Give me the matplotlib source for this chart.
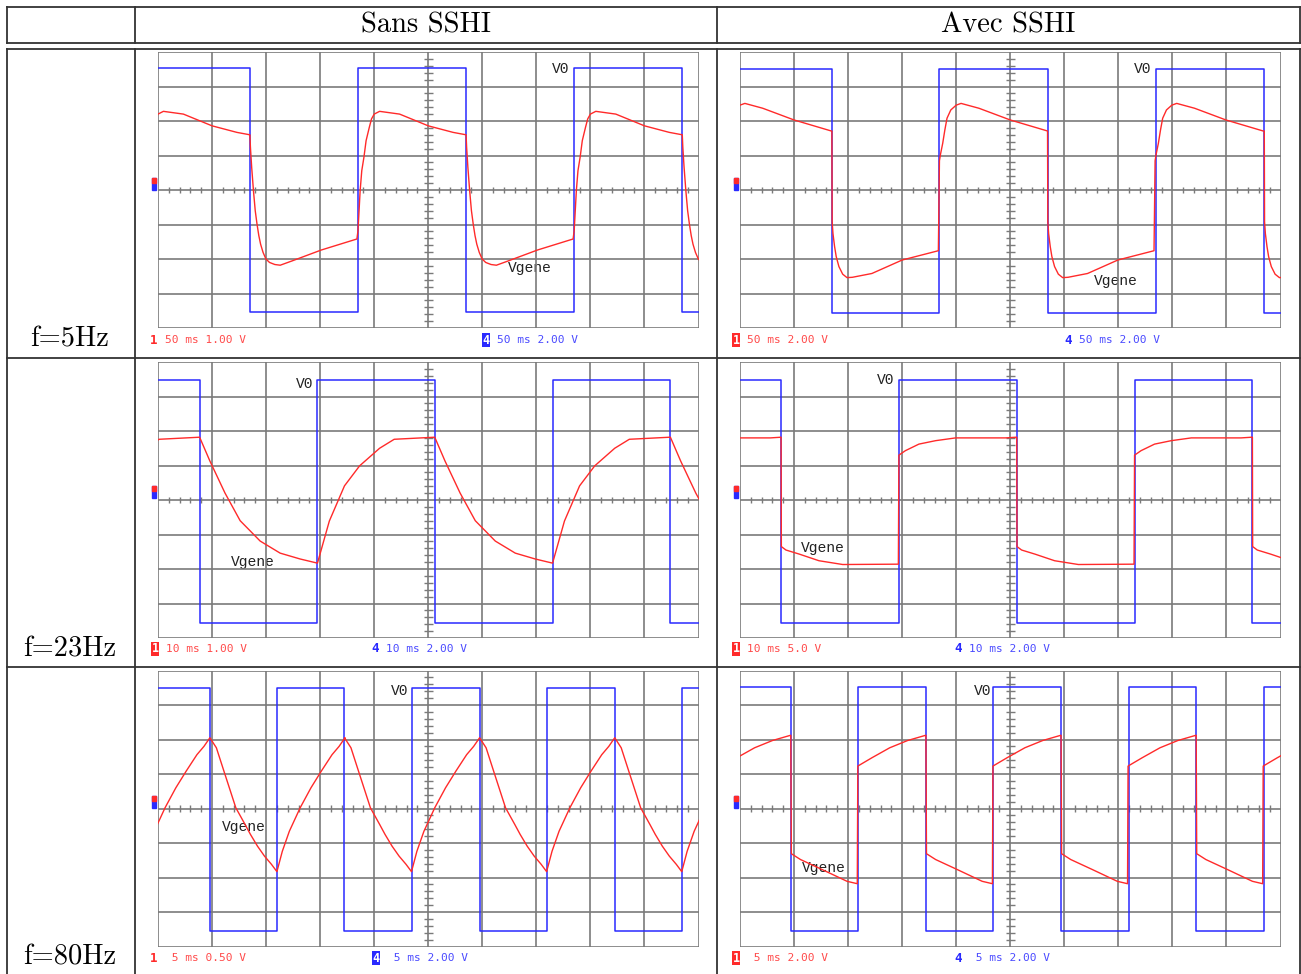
import numpy as np
import matplotlib
matplotlib.use("Agg")
import matplotlib.pyplot as plt

# --- lecture des oscillogrammes (unites : divisions, x 0..10, y -4..4) ---
# fronts descendants / montants de V0 (voie 4), niveaux haut / bas
fronts_desc_5hz_sans = [-2.30, 1.70, 5.70, 9.70]
fronts_mont_5hz_sans = [3.70, 7.70]
niveaux_5hz_sans = (3.53, -3.55)
# Vgene (voie 1) sur une periode, temps relatif au front descendant
dt_5hz_sans = [0.00, 0.01, 0.033, 0.066, 0.099, 0.132, 0.165, 0.198, 0.244, 0.297, 0.363, 0.462,
               0.561, 0.79, 1.32, 1.98, 2.00, 2.04, 2.07, 2.11, 2.15, 2.21, 2.25, 2.30, 2.40,
               2.77, 3.30, 3.76, 4.00]
vg_5hz_sans = [1.60, 1.24, 0.66, -0.02, -0.60, -0.99, -1.32, -1.57, -1.81, -2.00, -2.10, -2.16,
               -2.18, -2.05, -1.74, -1.42, -1.18, -0.02, 0.56, 0.95, 1.43, 1.82, 2.06, 2.20, 2.28,
               2.20, 1.86, 1.67, 1.60]

fronts_desc_5hz_avec = [-2.30, 1.70, 5.69, 9.70]
fronts_mont_5hz_avec = [3.69, 7.70]
niveaux_5hz_avec = (3.52, -3.56)
dt_5hz_avec = [0.00, 0.005, 0.02, 0.05, 0.08, 0.13, 0.20, 0.28, 0.38, 0.74, 1.30, 1.97, 1.99,
               2.01, 2.05, 2.09, 2.13, 2.20, 2.30, 2.39, 2.72, 3.30, 3.99]
vg_5hz_avec = [1.71, -0.92, -1.26, -1.64, -1.93, -2.22, -2.44, -2.54, -2.53, -2.42, -2.03, -1.76, 0.85,
               1.04, 1.35, 1.74, 2.08, 2.32, 2.46, 2.51, 2.37, 2.03, 1.71]

fronts_desc_23hz_sans = [-3.58, 0.77, 5.12, 9.48]
fronts_mont_23hz_sans = [2.95, 7.30]
niveaux_23hz_sans = (3.48, -3.57)
dt_23hz_sans = [0.00, 0.19, 0.47, 0.75, 1.12, 1.49, 1.86, 2.18, 2.40, 2.68, 2.96, 3.33, 3.60, 4.35]
vg_23hz_sans = [1.82, 1.13, 0.20, -0.60, -1.19, -1.54, -1.71, -1.83, -0.61, 0.41, 0.99, 1.50, 1.76, 1.82]

fronts_desc_23hz_avec = [-3.59, 0.76, 5.12, 9.48]
fronts_mont_23hz_avec = [2.94, 7.30]
niveaux_23hz_avec = (3.48, -3.57)
dt_23hz_avec = [0.00, 0.005, 0.09, 0.34, 0.70, 1.14, 2.17, 2.18, 2.30, 2.55, 2.86, 3.23, 4.15, 4.35]
vg_23hz_avec = [1.82, -1.35, -1.45, -1.57, -1.76, -1.87, -1.86, 1.30, 1.43, 1.62, 1.72, 1.80, 1.80, 1.82]

fronts_desc_80hz_sans = [-1.54, 0.96, 3.45, 5.95, 8.45]
fronts_mont_80hz_sans = [2.20, 4.70, 7.20, 9.70]
niveaux_80hz_sans = (3.50, -3.56)
dt_80hz_sans = [0.00, 0.12, 0.25, 0.48, 0.65, 0.75, 0.88, 1.01, 1.14, 1.24,
                1.34, 1.47, 1.67, 1.87, 2.06, 2.26, 2.39, 2.50]
vg_80hz_sans = [2.05, 1.76, 1.13, 0.02, -0.46, -0.75, -1.09, -1.38, -1.62, -1.83,
                -1.24, -0.66, 0.02, 0.60, 1.08, 1.56, 1.80, 2.05]

fronts_desc_80hz_avec = [-1.56, 0.94, 3.44, 5.94, 8.44]
fronts_mont_80hz_avec = [2.18, 4.69, 7.19, 9.69]
niveaux_80hz_avec = (3.51, -3.56)
dt_80hz_avec = [0.00, 0.01, 0.18, 0.58, 1.04, 1.23, 1.24, 1.50, 1.83, 2.16, 2.49]
vg_80hz_avec = [2.12, -1.31, -1.48, -1.77, -2.11, -2.18, 1.23, 1.47, 1.76, 1.97, 2.12]

titres_col = ["Sans SSHI", "Avec SSHI"]
titres_lig = ["f=5Hz", "f=23Hz", "f=80Hz"]

W, H = 1301, 974
ROUGE = '#ff2a2a'
BLEU = '#2a2aff'
GRILLE = '#7a7a7a'

fig = plt.figure(figsize=(W / 100, H / 100), dpi=100)
fond = fig.add_axes([0, 0, 1, 1])
fond.set_xlim(0, W)
fond.set_ylim(H, 0)
fond.axis('off')

# tableau
trait = dict(color='#333333', lw=1.3)
for y in [7, 43, 49, 358, 667]:
    fond.plot([7, 1300], [y, y], **trait)
for x in [7, 135, 717, 1300]:
    fond.plot([x, x], [7, 43], **trait)
    fond.plot([x, x], [49, 974], **trait)

fond.text(426, 25, titres_col[0], fontfamily='cmr10', fontsize=20.5, ha='center', va='center')
fond.text(1008, 25, titres_col[1], fontfamily='cmr10', fontsize=20.5, ha='center', va='center')
for yl, t in zip([339, 649, 957], titres_lig):
    fond.text(70, yl, t, fontfamily='cmr10', fontsize=20.5, ha='center', va='center')


def carre(fd, fm, niv):
    # on ne garde que les fronts visibles, la trace commence au niveau haut
    ev = sorted([(t, niv[1]) for t in fd if 0 < t < 10] + [(t, niv[0]) for t in fm if 0 < t < 10])
    xs, ys, cur = [-1.0], [niv[0]], niv[0]
    for t, n in ev:
        xs += [t, t]
        ys += [cur, n]
        cur = n
    xs.append(11.0)
    ys.append(cur)
    return xs, ys


def vgene(fd, dt, vg):
    xs, ys = [], []
    for t0 in fd:
        xs += [t0 + d for d in dt]
        ys += vg
    return xs, ys


def ecran(x0, ytop, fd, fm, niv, dt, vg):
    ax = fig.add_axes([x0 / W, 1 - (ytop + 276) / H, 540.5 / W, 276 / H])
    ax.set_xlim(0, 10)
    ax.set_ylim(-4, 4)
    ax.axis('off')
    for i in range(11):
        ax.axvline(i, color=GRILLE, lw=1.2, zorder=1)
    for j in range(-4, 5):
        ax.axhline(j, color=GRILLE, lw=1.2, zorder=1)
    tx = [k * 0.2 for k in range(1, 50) if k % 5]
    ax.vlines(tx, -0.09, 0.09, color=GRILLE, lw=1.0, zorder=1)
    ty = [k * 0.2 for k in range(-19, 20) if k % 5]
    ax.hlines(ty, 4.92, 5.08, color=GRILLE, lw=1.0, zorder=1)
    bx, by = carre(fd, fm, niv)
    ax.plot(bx, by, color=BLEU, lw=1.1, zorder=3)
    rx, ry = vgene(fd, dt, vg)
    ax.plot(rx, ry, color=ROUGE, lw=1.0, zorder=4)
    return ax


ecran(158, 52, fronts_desc_5hz_sans, fronts_mont_5hz_sans, niveaux_5hz_sans, dt_5hz_sans, vg_5hz_sans)
ecran(740, 52, fronts_desc_5hz_avec, fronts_mont_5hz_avec, niveaux_5hz_avec, dt_5hz_avec, vg_5hz_avec)
ecran(158, 362, fronts_desc_23hz_sans, fronts_mont_23hz_sans, niveaux_23hz_sans, dt_23hz_sans, vg_23hz_sans)
ecran(740, 362, fronts_desc_23hz_avec, fronts_mont_23hz_avec, niveaux_23hz_avec, dt_23hz_avec, vg_23hz_avec)
ecran(158, 670.5, fronts_desc_80hz_sans, fronts_mont_80hz_sans, niveaux_80hz_sans, dt_80hz_sans, vg_80hz_sans)
ecran(740, 670.5, fronts_desc_80hz_avec, fronts_mont_80hz_avec, niveaux_80hz_avec, dt_80hz_avec, vg_80hz_avec)

# marqueurs de masse a gauche des ecrans
for xm in [154, 736]:
    for yc in [184, 492, 802]:
        fond.add_patch(plt.Rectangle((xm - 2, yc - 6), 4, 12, color=BLEU, zorder=5))
        fond.add_patch(plt.Rectangle((xm - 2, yc - 6), 4, 5, color=ROUGE, zorder=6))

# legendes des voies sous les ecrans
mono = 'DejaVu Sans Mono'


def voie(x, y, num, txt, coul, encadre):
    if encadre:
        fond.text(x, y, num, color='white', fontfamily=mono, fontsize=8.5, fontweight='bold',
                  ha='center', va='center',
                  bbox=dict(facecolor=coul, edgecolor='none', boxstyle='square,pad=0.05'))
    else:
        fond.text(x, y, num, color=coul, fontfamily=mono, fontsize=9, fontweight='bold',
                  ha='center', va='center')
    fond.text(x + 11, y, txt, color=coul, fontfamily=mono, fontsize=8, ha='left', va='center', alpha=0.85)


voie(154, 340, '1', '50 ms 1.00 V', ROUGE, False)
voie(486, 340, '4', '50 ms 2.00 V', BLEU, True)
voie(736, 340, '1', '50 ms 2.00 V', ROUGE, True)
voie(1068, 340, '4', '50 ms 2.00 V', BLEU, False)
voie(155, 649, '1', '10 ms 1.00 V', ROUGE, True)
voie(375, 649, '4', '10 ms 2.00 V', BLEU, False)
voie(736, 649, '1', '10 ms 5.0 V', ROUGE, True)
voie(958, 649, '4', '10 ms 2.00 V', BLEU, False)
voie(154, 958, '1', ' 5 ms 0.50 V', ROUGE, False)
voie(376, 958, '4', ' 5 ms 2.00 V', BLEU, True)
voie(736, 958, '1', ' 5 ms 2.00 V', ROUGE, True)
voie(958, 958, '4', ' 5 ms 2.00 V', BLEU, False)

# annotations V0 / Vgene
annot = dict(fontfamily='Liberation Mono', fontsize=10.5, color='#222222', ha='center', va='center')
for (xv, yv), (xg, yg) in [((561, 69), (530, 268)), ((1143, 69), (1116, 281)),
                           ((305, 384), (253, 562)), ((886, 380), (823, 548)),
                           ((400, 691), (244, 827)), ((983, 691), (824, 868))]:
    fond.text(xv, yv, 'V0', **annot)
    fond.text(xg, yg, 'Vgene', **annot)

fig.savefig('out.png', dpi=100)
